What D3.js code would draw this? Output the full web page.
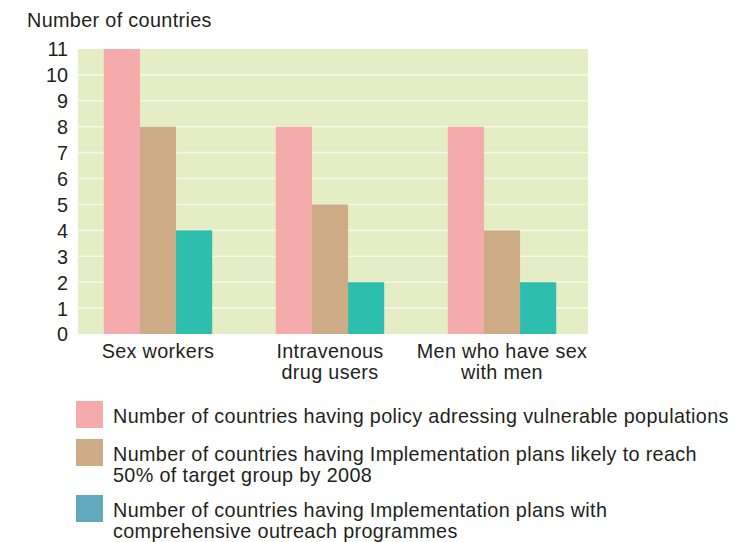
<!DOCTYPE html>
<html><head><meta charset="utf-8">
<script src="https://cdn.jsdelivr.net/npm/d3@7"></script>
<style>body{margin:0;background:#fff}text{font-family:"Liberation Sans",Arial,sans-serif;fill:#231f20}</style>
</head><body><svg id="c" width="731" height="542"></svg>
<script>
const categories = [["Sex workers"], ["Intravenous","drug users"], ["Men who have sex","with men"]];
const catKeys = ["Sex workers","Intravenous drug users","Men who have sex with men"];
const seriesNames = [
  ["Number of countries having policy adressing vulnerable populations"],
  ["Number of countries having Implementation plans likely to reach","50% of target group by 2008"],
  ["Number of countries having Implementation plans with","comprehensive outreach programmes"]
];
const policyValues = [11, 8, 8];
const plans50Values = [8, 5, 4];
const outreachValues = [4, 2, 2];
const yTicks = [0,1,2,3,4,5,6,7,8,9,10,11];
const barColors = ["#f5aaac", "#cdac85", "#2ebead"];
const legendColors = ["#f5aaac", "#cdac85", "#62a8bf"];
const FS = "19.8px";
const LS = "0.35px";

const svg = d3.select("#c");
const plotL = 78, plotR = 588, plotT = 49, plotB = 334;
const y = d3.scaleLinear().domain([0, 11]).range([plotB, plotT]);
const x0 = d3.scaleBand().domain(catKeys).range([78, 582]).paddingInner(0.37).paddingOuter(0.15);
const series = [policyValues, plans50Values, outreachValues];
const x1 = d3.scaleBand().domain([0,1,2]).range([0, x0.bandwidth()]);

svg.append("rect").attr("x", plotL).attr("y", plotT).attr("width", plotR - plotL).attr("height", plotB - plotT).attr("fill", "#e5edc4");
svg.append("g").selectAll("line").data(yTicks.filter(d => d > 0 && d < 11)).join("line")
  .attr("x1", plotL).attr("x2", plotR).attr("y1", d => y(d)).attr("y2", d => y(d))
  .attr("stroke", "#f6f8ea").attr("stroke-width", 1.6);

const g = svg.append("g");
catKeys.forEach((c, ci) => {
  series.forEach((s, si) => {
    g.append("rect").attr("x", x0(c) + x1(si)).attr("width", x1.bandwidth())
      .attr("y", y(s[ci])).attr("height", plotB - y(s[ci])).attr("fill", barColors[si]);
  });
});

const yAxis = d3.axisLeft(y).tickValues(yTicks).tickSize(0).tickPadding(10);
const ya = svg.append("g").attr("transform", `translate(${plotL},0)`).call(yAxis);
ya.select(".domain").remove();
ya.selectAll("text").style("font-size", FS).attr("dy", "0.35em").style("font-family", '"Liberation Sans",Arial,sans-serif').attr("fill", "#231f20");

svg.append("text").attr("x", 27).attr("y", 27).style("font-size", FS).style("letter-spacing", LS).text("Number of countries");

categories.forEach((lines, ci) => {
  const cx = x0(catKeys[ci]) + x0.bandwidth() / 2;
  const t = svg.append("text").attr("text-anchor", "middle").style("font-size", FS).style("letter-spacing", LS);
  lines.forEach((l, li) => t.append("tspan").attr("x", cx).attr("y", 358 + li * 21).text(l));
});

const legY = [401, 439, 495];
const legBase = [423, 461, 517];
seriesNames.forEach((lines, i) => {
  svg.append("rect").attr("x", 76).attr("y", legY[i]).attr("width", 27).attr("height", 27).attr("fill", legendColors[i]);
  const t = svg.append("text").style("font-size", FS).style("letter-spacing", LS);
  lines.forEach((l, li) => t.append("tspan").attr("x", 113).attr("y", legBase[i] + li * 21).text(l));
});
</script></body></html>
